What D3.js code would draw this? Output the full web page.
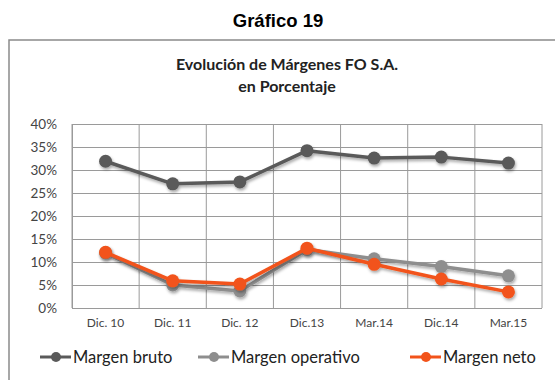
<!DOCTYPE html>
<html>
<head>
<meta charset="utf-8">
<script src="https://cdn.jsdelivr.net/npm/d3@7"></script>
<style>
  html, body { margin: 0; padding: 0; background: #fff; }
  svg { display: block; }
</style>
</head>
<body>
<svg id="chart" width="555" height="380"></svg>
<script>
// Periods on the x axis
const categories = ["Dic. 10", "Dic. 11", "Dic. 12", "Dic.13", "Mar.14", "Dic.14", "Mar.15"];
// Margins, in percent
const margenBruto = [31.9, 27.0, 27.4, 34.2, 32.6, 32.8, 31.5];
const margenOperativo = [12.0, 5.0, 3.7, 12.7, 10.7, 9.0, 7.0];
const margenNeto = [12.1, 5.9, 5.2, 13.0, 9.5, 6.3, 3.5];
const yTicks = [0, 5, 10, 15, 20, 25, 30, 35, 40];
const seriesNames = ["Margen bruto", "Margen operativo", "Margen neto"];
const seriesColors = ["#5a5a5a", "#8e8e8e", "#f2531a"];

const svg = d3.select("#chart");
const font = "Lato, 'Open Sans', sans-serif";

// Heading above the framed chart
svg.append("text")
  .attr("x", 278).attr("y", 27)
  .attr("text-anchor", "middle")
  .attr("font-family", "Arial, 'Liberation Sans', sans-serif")
  .attr("font-weight", "bold").attr("font-size", 18.5)
  .attr("fill", "#000")
  .text("Gráfico 19");

// Chart frame
svg.append("rect")
  .attr("x", 9).attr("y", 40).attr("width", 560).attr("height", 360)
  .attr("fill", "#fff").attr("stroke", "#8a8a8a").attr("stroke-width", 1.5);

const title = svg.append("text")
  .attr("text-anchor", "middle")
  .attr("font-family", font).attr("font-weight", "bold").attr("font-size", 16)
  .attr("fill", "#222");
title.append("tspan").attr("x", 287).attr("y", 70).text("Evolución de Márgenes FO S.A.");
title.append("tspan").attr("x", 287).attr("y", 92).text("en Porcentaje");

const plot = { left: 72, right: 542, top: 124, bottom: 308 };

const x = d3.scaleBand().domain(categories).range([plot.left, plot.right]);
const y = d3.scaleLinear().domain([0, 40]).range([plot.bottom, plot.top]);

// Shadow under lines and markers
const defs = svg.append("defs");
const f = defs.append("filter").attr("id", "shadow")
  .attr("x", "-20%").attr("y", "-20%").attr("width", "140%").attr("height", "160%");
f.append("feDropShadow").attr("dx", 1).attr("dy", 2).attr("stdDeviation", 1.6)
  .attr("flood-color", "#000").attr("flood-opacity", 0.35);

// Horizontal gridlines via the y axis
const yAxis = svg.append("g")
  .attr("transform", `translate(${plot.left},0)`)
  .call(d3.axisLeft(y).tickValues(yTicks)
    .tickSize(-(plot.right - plot.left)).tickSizeOuter(0)
    .tickFormat(d => d + "%"));
yAxis.select(".domain").attr("stroke", "#9a9a9a");
yAxis.selectAll(".tick line").attr("stroke", "#9a9a9a").attr("stroke-width", 1);
yAxis.selectAll(".tick text")
  .attr("x", -15)
  .attr("font-family", font).attr("font-size", 13.5).attr("fill", "#444");

// Vertical gridlines at category boundaries
const bounds = categories.map(c => x(c)).concat([plot.right]);
svg.append("g").selectAll("line").data(bounds).join("line")
  .attr("x1", d => d).attr("x2", d => d)
  .attr("y1", plot.top).attr("y2", plot.bottom)
  .attr("stroke", "#9a9a9a").attr("stroke-width", 1);

// Category labels
const xAxis = svg.append("g")
  .attr("transform", `translate(0,${plot.bottom})`)
  .call(d3.axisBottom(x).tickSize(0));
xAxis.select(".domain").remove();
xAxis.selectAll(".tick text")
  .attr("dy", "1.35em")
  .attr("font-family", font).attr("font-size", 12).attr("fill", "#444");

// Series
const allSeries = [margenBruto, margenOperativo, margenNeto];
const cx = c => x(c) + x.bandwidth() / 2;
const line = d3.line().x((d, i) => cx(categories[i])).y(d => y(d));

allSeries.forEach((vals, s) => {
  const g = svg.append("g").attr("filter", "url(#shadow)");
  g.append("path").datum(vals)
    .attr("d", line)
    .attr("fill", "none").attr("stroke", seriesColors[s])
    .attr("stroke-width", 3.5).attr("stroke-linejoin", "round");
  g.selectAll("circle").data(vals).join("circle")
    .attr("cx", (d, i) => cx(categories[i]))
    .attr("cy", d => y(d))
    .attr("r", 6.5)
    .attr("fill", seriesColors[s]);
});

// Legend
const legendX = [40, 198, 410];
const legend = svg.append("g");
seriesNames.forEach((name, s) => {
  const g = legend.append("g").attr("transform", `translate(${legendX[s]},357)`);
  g.append("line").attr("x1", 0).attr("x2", 31).attr("y1", 0).attr("y2", 0)
    .attr("stroke", seriesColors[s]).attr("stroke-width", 3);
  g.append("circle").attr("cx", 16).attr("cy", 0).attr("r", 5).attr("fill", seriesColors[s]);
  g.append("text").attr("x", 33).attr("y", 6)
    .attr("font-family", font).attr("font-size", 16.5).attr("fill", "#222")
    .text(name);
});
</script>
</body>
</html>
